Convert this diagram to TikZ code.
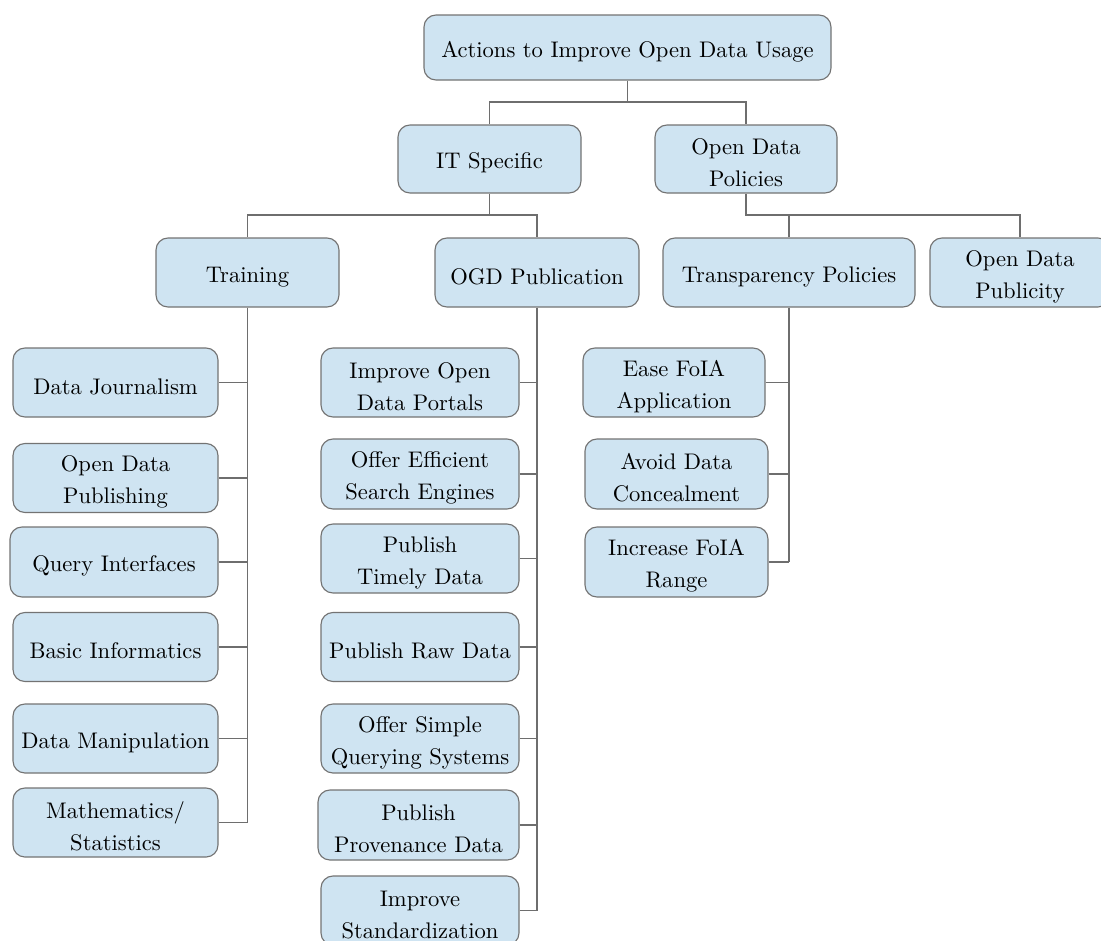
\documentclass[tikz,border=0pt]{standalone}
\newcommand\upr{\rule{0pt}{10.5pt}}
\begin{document}
\begin{tikzpicture}[x=0.443pt,y=-0.443pt,
  box/.style 2 args={draw=boxline, fill=boxfill, rounded corners=5.3pt, line width=0.5pt,
    align=center, inner sep=0pt, minimum width=#1*0.443pt, minimum height=#2*0.443pt,
    font=\fontsize{10}{14.2}\selectfont},
  conn/.style={draw=connline, line width=0.5pt}]
\definecolor{boxfill}{RGB}{207,228,242}
\definecolor{boxline}{RGB}{115,115,115}
\definecolor{connline}{RGB}{110,110,110}
\useasboundingbox (0,0) rectangle (1101,940);
% level 0
\node[box={407}{65}] (root) at (627.5,47.5) {\upr Actions to Improve Open Data Usage};
% level 1
\node[box={183}{68}] (it) at (489.5,159) {\upr IT Specific};
\node[box={182}{68}] (odp) at (746,159) {\upr Open Data\\Policies};
% level 2
\node[box={183}{69}] (train) at (247.5,272.5) {\upr Training};
\node[box={204}{69}] (ogd) at (537,272.5) {\upr OGD Publication};
\node[box={252}{69}] (tp) at (789,272.5) {\upr Transparency Policies};
\node[box={180}{69}] (pub) at (1020,272.5) {\upr Open Data\\Publicity};
% training children
\node[box={205}{69}] (dj) at (115.5,382.5) {\upr Data Journalism};
\node[box={205}{69}] (odpub) at (115.5,478) {\upr Open Data\\Publishing};
\node[box={208}{70}] (qi) at (114,562) {\upr Query Interfaces};
\node[box={205}{69}] (bi) at (115.5,647) {\upr Basic Informatics};
\node[box={205}{69}] (dm) at (115.5,738.5) {\upr Data Manipulation};
\node[box={205}{69}] (ms) at (115.5,822.5) {\upr Mathematics/\\Statistics};
% OGD children
\node[box={198}{69}] (iodp) at (420,382.5) {\upr Improve Open\\Data Portals};
\node[box={198}{70}] (oese) at (420,474) {\upr Offer Efficient\\Search Engines};
\node[box={198}{69}] (ptd) at (420,558.5) {\upr Publish\\Timely Data};
\node[box={198}{69}] (prd) at (420,647) {\upr Publish Raw Data};
\node[box={198}{69}] (osqs) at (420,738.5) {\upr Offer Simple\\Querying Systems};
\node[box={201}{70}] (ppd) at (418.5,825) {\upr Publish\\Provenance Data};
\node[box={198}{69}] (is) at (420,910.5) {\upr Improve\\Standardization};
% transparency children
\node[box={182}{69}] (efa) at (674,382.5) {\upr Ease FoIA\\Application};
\node[box={183}{70}] (adc) at (676.5,474) {\upr Avoid Data\\Concealment};
\node[box={183}{70}] (ifr) at (676.5,562) {\upr Increase FoIA\\Range};
% connectors
\coordinate (b0) at (627.5,102);
\draw[conn] (root.south) -- (b0) -| (it.north);
\draw[conn] (b0) -| (odp.north);
\coordinate (b1) at (489.5,215);
\draw[conn] (it.south) -- (b1) -| (train.north);
\draw[conn] (b1) -| (ogd.north);
\coordinate (b2) at (746,215);
\draw[conn] (odp.south) -- (b2) -| (pub.north);
\draw[conn] (tp.north) -- (tp.north |- b2);
\draw[conn] (train.south) -- (train.south |- ms.east);
\foreach \c in {dj,odpub,qi,bi,dm,ms} \draw[conn] (\c.east) -- (\c.east -| train.south);
\draw[conn] (ogd.south) -- (ogd.south |- is.east);
\foreach \c in {iodp,oese,ptd,prd,osqs,ppd,is} \draw[conn] (\c.east) -- (\c.east -| ogd.south);
\draw[conn] (tp.south) -- (tp.south |- ifr.east);
\foreach \c in {efa,adc,ifr} \draw[conn] (\c.east) -- (\c.east -| tp.south);
\end{tikzpicture}
\end{document}
